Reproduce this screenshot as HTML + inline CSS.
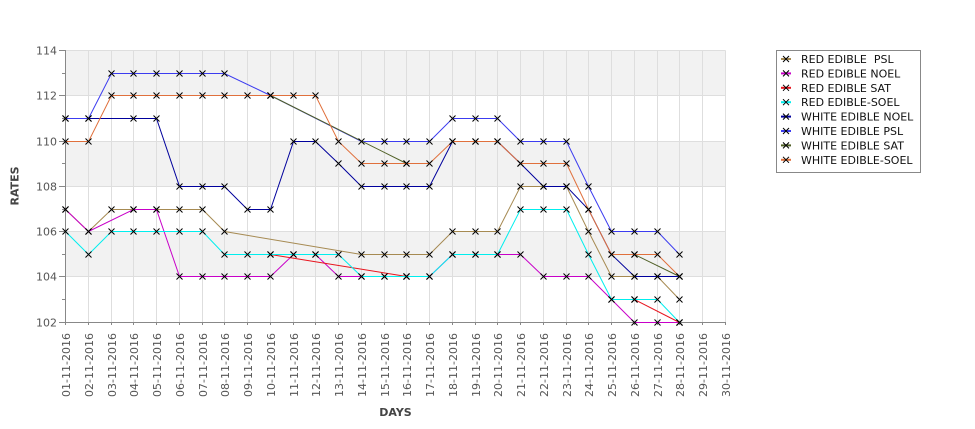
<!DOCTYPE html>
<html><head><meta charset="utf-8"><style>
html,body{margin:0;padding:0;background:#fff;}
svg{display:block;}
text{font-family:"DejaVu Sans","Liberation Sans",sans-serif;}
</style></head><body>
<svg width="975" height="429" viewBox="0 0 975 429" xmlns="http://www.w3.org/2000/svg">
<defs>
<marker id="mx" markerWidth="8" markerHeight="8" refX="4" refY="4" markerUnits="userSpaceOnUse" overflow="visible">
<path d="M1 1L7 7M1 7L7 1" stroke="#000" stroke-width="1" fill="none"/>
</marker>
</defs>
<rect width="975" height="429" fill="#fff"/>
<!-- bands -->
<rect x="65.5" y="50.5" width="660" height="45" fill="#f2f2f2"/>
<rect x="65.5" y="141.5" width="660" height="45" fill="#f2f2f2"/>
<rect x="65.5" y="231.5" width="660" height="45" fill="#f2f2f2"/>
<!-- grid -->
<g stroke="#dedede" stroke-width="1">
<path d="M65.5 50.5H725.5M65.5 95.5H725.5M65.5 141.5H725.5M65.5 186.5H725.5M65.5 231.5H725.5M65.5 276.5H725.5"/>
<path d="M88.5 50.5V322.5M111.5 50.5V322.5M133.5 50.5V322.5M156.5 50.5V322.5M179.5 50.5V322.5M202.5 50.5V322.5M224.5 50.5V322.5M247.5 50.5V322.5M270.5 50.5V322.5M293.5 50.5V322.5M315.5 50.5V322.5M338.5 50.5V322.5M361.5 50.5V322.5M384.5 50.5V322.5M406.5 50.5V322.5M429.5 50.5V322.5M452.5 50.5V322.5M475.5 50.5V322.5M497.5 50.5V322.5M520.5 50.5V322.5M543.5 50.5V322.5M566.5 50.5V322.5M588.5 50.5V322.5M611.5 50.5V322.5M634.5 50.5V322.5M657.5 50.5V322.5M679.5 50.5V322.5M702.5 50.5V322.5M725.5 50.5V322.5"/>
</g>
<!-- axes -->
<g stroke="#888" stroke-width="1" fill="none">
<path d="M65.5 50V322.5M65 322.5H726"/>
<path d="M59 50.5H65.5M59 95.5H65.5M59 141.5H65.5M59 186.5H65.5M59 231.5H65.5M59 276.5H65.5M59 322.5H65.5"/>
<path d="M62 73.5H65.5M62 118.5H65.5M62 163.5H65.5M62 209.5H65.5M62 254.5H65.5M62 299.5H65.5"/>
<path d="M65.5 322.5V325M88.5 322.5V325M111.5 322.5V325M133.5 322.5V325M156.5 322.5V325M179.5 322.5V325M202.5 322.5V325M224.5 322.5V325M247.5 322.5V325M270.5 322.5V325M293.5 322.5V325M315.5 322.5V325M338.5 322.5V325M361.5 322.5V325M384.5 322.5V325M406.5 322.5V325M429.5 322.5V325M452.5 322.5V325M475.5 322.5V325M497.5 322.5V325M520.5 322.5V325M543.5 322.5V325M566.5 322.5V325M588.5 322.5V325M611.5 322.5V325M634.5 322.5V325M657.5 322.5V325M679.5 322.5V325M702.5 322.5V325M725.5 322.5V325"/>
</g>
<!-- y labels -->
<g font-size="11" fill="#555" text-anchor="end">
<text x="57" y="54.5">114</text>
<text x="57" y="99.5">112</text>
<text x="57" y="145.5">110</text>
<text x="57" y="190.5">108</text>
<text x="57" y="235.5">106</text>
<text x="57" y="280.5">104</text>
<text x="57" y="326.5">102</text>
</g>
<!-- x labels -->
<g font-size="11" fill="#555" text-anchor="end">
<text transform="translate(69.8,333) rotate(-90)">01-11-2016</text>
<text transform="translate(92.8,333) rotate(-90)">02-11-2016</text>
<text transform="translate(115.8,333) rotate(-90)">03-11-2016</text>
<text transform="translate(137.8,333) rotate(-90)">04-11-2016</text>
<text transform="translate(160.8,333) rotate(-90)">05-11-2016</text>
<text transform="translate(183.8,333) rotate(-90)">06-11-2016</text>
<text transform="translate(206.8,333) rotate(-90)">07-11-2016</text>
<text transform="translate(228.8,333) rotate(-90)">08-11-2016</text>
<text transform="translate(251.8,333) rotate(-90)">09-11-2016</text>
<text transform="translate(274.8,333) rotate(-90)">10-11-2016</text>
<text transform="translate(297.8,333) rotate(-90)">11-11-2016</text>
<text transform="translate(319.8,333) rotate(-90)">12-11-2016</text>
<text transform="translate(342.8,333) rotate(-90)">13-11-2016</text>
<text transform="translate(365.8,333) rotate(-90)">14-11-2016</text>
<text transform="translate(388.8,333) rotate(-90)">15-11-2016</text>
<text transform="translate(410.8,333) rotate(-90)">16-11-2016</text>
<text transform="translate(433.8,333) rotate(-90)">17-11-2016</text>
<text transform="translate(456.8,333) rotate(-90)">18-11-2016</text>
<text transform="translate(479.8,333) rotate(-90)">19-11-2016</text>
<text transform="translate(501.8,333) rotate(-90)">20-11-2016</text>
<text transform="translate(524.8,333) rotate(-90)">21-11-2016</text>
<text transform="translate(547.8,333) rotate(-90)">22-11-2016</text>
<text transform="translate(570.8,333) rotate(-90)">23-11-2016</text>
<text transform="translate(592.8,333) rotate(-90)">24-11-2016</text>
<text transform="translate(615.8,333) rotate(-90)">25-11-2016</text>
<text transform="translate(638.8,333) rotate(-90)">26-11-2016</text>
<text transform="translate(661.8,333) rotate(-90)">27-11-2016</text>
<text transform="translate(683.8,333) rotate(-90)">28-11-2016</text>
<text transform="translate(706.8,333) rotate(-90)">29-11-2016</text>
<text transform="translate(729.8,333) rotate(-90)">30-11-2016</text>
</g>
<!-- axis titles -->
<text x="395.5" y="416" font-size="11" font-weight="bold" fill="#444" text-anchor="middle">DAYS</text>
<text transform="translate(18.5,186) rotate(-90)" font-size="11" font-weight="bold" fill="#444" text-anchor="middle">RATES</text>
<!-- series lines -->
<g fill="none" stroke-width="1">
<polyline stroke="#a68a52" points="65.5,209.5 88.5,231.5 111.5,209.5 133.5,209.5 156.5,209.5 179.5,209.5 202.5,209.5 224.5,231.5 361.5,254.5 384.5,254.5 406.5,254.5 429.5,254.5 452.5,231.5 475.5,231.5 497.5,231.5 520.5,186.5 543.5,186.5 566.5,186.5 588.5,231.5 611.5,276.5 634.5,276.5 657.5,276.5 679.5,299.5"/>
<polyline stroke="#c800c8" points="65.5,209.5 88.5,231.5 133.5,209.5 156.5,209.5 179.5,276.5 202.5,276.5 224.5,276.5 247.5,276.5 270.5,276.5 293.5,254.5 315.5,254.5 338.5,276.5 361.5,276.5 384.5,276.5 406.5,276.5 429.5,276.5 452.5,254.5 475.5,254.5 497.5,254.5 520.5,254.5 543.5,276.5 566.5,276.5 588.5,276.5 611.5,299.5 634.5,322.5 657.5,322.5 679.5,322.5"/>
<polyline stroke="#e8141e" points="270.5,254.5 406.5,276.5"/>
<polyline stroke="#e8141e" points="634.5,299.5 679.5,322.5"/>
<polyline stroke="#00eeee" points="65.5,231.5 88.5,254.5 111.5,231.5 133.5,231.5 156.5,231.5 179.5,231.5 202.5,231.5 224.5,254.5 247.5,254.5 270.5,254.5 293.5,254.5 315.5,254.5 338.5,254.5 361.5,276.5 384.5,276.5 406.5,276.5 429.5,276.5 452.5,254.5 475.5,254.5 497.5,254.5 520.5,209.5 543.5,209.5 566.5,209.5 588.5,254.5 611.5,299.5 634.5,299.5 657.5,299.5 679.5,322.5"/>
<polyline stroke="#00009c" points="65.5,118.5 88.5,118.5 133.5,118.5 156.5,118.5 179.5,186.5 202.5,186.5 224.5,186.5 247.5,209.5 270.5,209.5 293.5,141.5 315.5,141.5 338.5,163.5 361.5,186.5 384.5,186.5 406.5,186.5 429.5,186.5 452.5,141.5 475.5,141.5 497.5,141.5 520.5,163.5 543.5,186.5 566.5,186.5 588.5,209.5 611.5,254.5 634.5,276.5 657.5,276.5 679.5,276.5"/>
<polyline stroke="#3c3cf0" points="65.5,118.5 88.5,118.5 111.5,73.5 133.5,73.5 156.5,73.5 179.5,73.5 202.5,73.5 224.5,73.5 270.5,95.5 361.5,141.5 384.5,141.5 406.5,141.5 429.5,141.5 452.5,118.5 475.5,118.5 497.5,118.5 520.5,141.5 543.5,141.5 566.5,141.5 588.5,186.5 611.5,231.5 634.5,231.5 657.5,231.5 679.5,254.5"/>
<polyline stroke="#4f5f25" points="270.5,95.5 406.5,163.5"/>
<polyline stroke="#4f5f25" points="634.5,254.5 679.5,276.5"/>
<polyline stroke="#e0703c" points="65.5,141.5 88.5,141.5 111.5,95.5 133.5,95.5 156.5,95.5 179.5,95.5 202.5,95.5 224.5,95.5 247.5,95.5 270.5,95.5 293.5,95.5 315.5,95.5 338.5,141.5 361.5,163.5 384.5,163.5 406.5,163.5 429.5,163.5 452.5,141.5 475.5,141.5 497.5,141.5 520.5,163.5 543.5,163.5 566.5,163.5 588.5,209.5 611.5,254.5 634.5,254.5 657.5,254.5 679.5,276.5"/>
</g>
<!-- markers -->
<g fill="none" stroke="none" marker-start="url(#mx)" marker-mid="url(#mx)" marker-end="url(#mx)">
<polyline points="65.5,209.5 88.5,231.5 111.5,209.5 133.5,209.5 156.5,209.5 179.5,209.5 202.5,209.5 224.5,231.5 361.5,254.5 384.5,254.5 406.5,254.5 429.5,254.5 452.5,231.5 475.5,231.5 497.5,231.5 520.5,186.5 543.5,186.5 566.5,186.5 588.5,231.5 611.5,276.5 634.5,276.5 657.5,276.5 679.5,299.5"/>
<polyline points="65.5,209.5 88.5,231.5 133.5,209.5 156.5,209.5 179.5,276.5 202.5,276.5 224.5,276.5 247.5,276.5 270.5,276.5 293.5,254.5 315.5,254.5 338.5,276.5 361.5,276.5 384.5,276.5 406.5,276.5 429.5,276.5 452.5,254.5 475.5,254.5 497.5,254.5 520.5,254.5 543.5,276.5 566.5,276.5 588.5,276.5 611.5,299.5 634.5,322.5 657.5,322.5 679.5,322.5"/>
<polyline points="270.5,254.5 406.5,276.5"/>
<polyline points="634.5,299.5 679.5,322.5"/>
<polyline points="65.5,231.5 88.5,254.5 111.5,231.5 133.5,231.5 156.5,231.5 179.5,231.5 202.5,231.5 224.5,254.5 247.5,254.5 270.5,254.5 293.5,254.5 315.5,254.5 338.5,254.5 361.5,276.5 384.5,276.5 406.5,276.5 429.5,276.5 452.5,254.5 475.5,254.5 497.5,254.5 520.5,209.5 543.5,209.5 566.5,209.5 588.5,254.5 611.5,299.5 634.5,299.5 657.5,299.5 679.5,322.5"/>
<polyline points="65.5,118.5 88.5,118.5 133.5,118.5 156.5,118.5 179.5,186.5 202.5,186.5 224.5,186.5 247.5,209.5 270.5,209.5 293.5,141.5 315.5,141.5 338.5,163.5 361.5,186.5 384.5,186.5 406.5,186.5 429.5,186.5 452.5,141.5 475.5,141.5 497.5,141.5 520.5,163.5 543.5,186.5 566.5,186.5 588.5,209.5 611.5,254.5 634.5,276.5 657.5,276.5 679.5,276.5"/>
<polyline points="65.5,118.5 88.5,118.5 111.5,73.5 133.5,73.5 156.5,73.5 179.5,73.5 202.5,73.5 224.5,73.5 270.5,95.5 361.5,141.5 384.5,141.5 406.5,141.5 429.5,141.5 452.5,118.5 475.5,118.5 497.5,118.5 520.5,141.5 543.5,141.5 566.5,141.5 588.5,186.5 611.5,231.5 634.5,231.5 657.5,231.5 679.5,254.5"/>
<polyline points="270.5,95.5 406.5,163.5"/>
<polyline points="634.5,254.5 679.5,276.5"/>
<polyline points="65.5,141.5 88.5,141.5 111.5,95.5 133.5,95.5 156.5,95.5 179.5,95.5 202.5,95.5 224.5,95.5 247.5,95.5 270.5,95.5 293.5,95.5 315.5,95.5 338.5,141.5 361.5,163.5 384.5,163.5 406.5,163.5 429.5,163.5 452.5,141.5 475.5,141.5 497.5,141.5 520.5,163.5 543.5,163.5 566.5,163.5 588.5,209.5 611.5,254.5 634.5,254.5 657.5,254.5 679.5,276.5"/>
</g>
<!-- legend -->
<rect x="776.5" y="50.5" width="144" height="122" fill="#fff" stroke="#888" stroke-width="1"/>
<g stroke-width="2">
<path d="M781 59H791" stroke="#a68a52"/>
<path d="M781 73.4H791" stroke="#c800c8"/>
<path d="M781 87.8H791" stroke="#e8141e"/>
<path d="M781 102.2H791" stroke="#00eeee"/>
<path d="M781 116.6H791" stroke="#00009c"/>
<path d="M781 131H791" stroke="#3c3cf0"/>
<path d="M781 145.4H791" stroke="#4f5f25"/>
<path d="M781 159.8H791" stroke="#e0703c"/>
</g>
<g stroke="#000" stroke-width="1" fill="none">
<path d="M783 56L789 62M783 62L789 56"/>
<path d="M783 70.4L789 76.4M783 76.4L789 70.4"/>
<path d="M783 84.8L789 90.8M783 90.8L789 84.8"/>
<path d="M783 99.2L789 105.2M783 105.2L789 99.2"/>
<path d="M783 113.6L789 119.6M783 119.6L789 113.6"/>
<path d="M783 128L789 134M783 134L789 128"/>
<path d="M783 142.4L789 148.4M783 148.4L789 142.4"/>
<path d="M783 156.8L789 162.8M783 162.8L789 156.8"/>
</g>
<g font-size="11" fill="#111" style="white-space:pre">
<text x="801" y="63" xml:space="preserve">RED EDIBLE  PSL</text>
<text x="801" y="77.4">RED EDIBLE NOEL</text>
<text x="801" y="91.8">RED EDIBLE SAT</text>
<text x="801" y="106.2">RED EDIBLE-SOEL</text>
<text x="801" y="120.6">WHITE EDIBLE NOEL</text>
<text x="801" y="135">WHITE EDIBLE PSL</text>
<text x="801" y="149.4">WHITE EDIBLE SAT</text>
<text x="801" y="163.8">WHITE EDIBLE-SOEL</text>
</g>
</svg>
</body></html>
